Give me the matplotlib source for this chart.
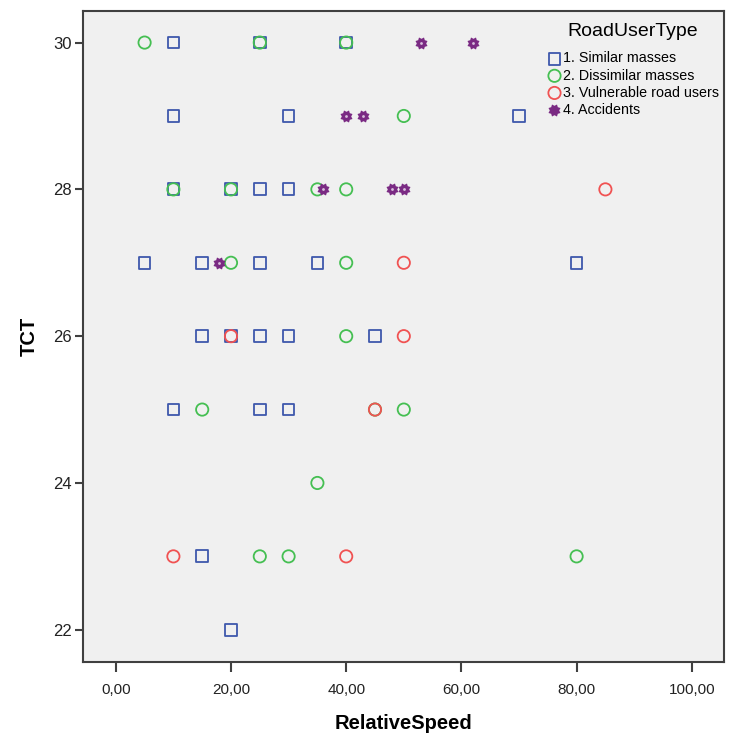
import numpy as np
import matplotlib
matplotlib.use("Agg")
import matplotlib.pyplot as plt
from matplotlib.path import Path

plt.rcParams['font.family'] = ['Liberation Sans', 'DejaVu Sans']

# 1. Similar masses
sim_x = [10, 25, 40, 10, 30, 70, 10, 20, 25, 30, 5, 15, 25, 35, 80, 15, 20, 25, 30, 45, 10, 25, 30, 15, 20]
sim_y = [30, 30, 30, 29, 29, 29, 28, 28, 28, 28, 27, 27, 27, 27, 27, 26, 26, 26, 26, 26, 25, 25, 25, 23, 22]
# 2. Dissimilar masses
dis_x = [5, 25, 40, 50, 10, 20, 35, 40, 20, 40, 40, 15, 45, 50, 35, 25, 30, 80]
dis_y = [30, 30, 30, 29, 28, 28, 28, 28, 27, 27, 26, 25, 25, 25, 24, 23, 23, 23]
# 3. Vulnerable road users
vul_x = [85, 50, 20, 50, 45, 10, 40]
vul_y = [28, 27, 26, 26, 25, 23, 23]
# 4. Accidents
acc_x = [53, 62, 40, 43, 36, 48, 50, 18]
acc_y = [30, 30, 29, 29, 28, 28, 28, 27]

labels = ['1. Similar masses', '2. Dissimilar masses', '3. Vulnerable road users', '4. Accidents']
xticks = [0, 20, 40, 60, 80, 100]
yticks = [22, 24, 26, 28, 30]

# gear-like marker used by SPSS for the 4th group
ang = np.linspace(0, 2 * np.pi, 17)[:-1] + np.pi / 8
rad = np.where(np.arange(16) % 2 == 0, 1.0, 0.72)
gear = np.column_stack([rad * np.cos(ang), rad * np.sin(ang)])
gear = Path(np.vstack([gear, gear[:1]]), closed=True)

fig = plt.figure(figsize=(7.31, 7.34), dpi=100)
ax = fig.add_axes([0.1135, 0.098, 0.877, 0.887])
ax.set_facecolor('#f0f0f0')

ax.scatter(sim_x, sim_y, marker='s', s=72, facecolors='none', edgecolors='#3e58ac', linewidths=1.3, label=labels[0])
ax.scatter(dis_x, dis_y, marker='o', s=78, facecolors='none', edgecolors='#45bf52', linewidths=1.3, label=labels[1])
ax.scatter(vul_x, vul_y, marker='o', s=78, facecolors='none', edgecolors='#f05252', linewidths=1.3, label=labels[2])
ax.scatter(acc_x, acc_y, marker=gear, s=75, color='#7a2a83', linewidths=0, label=labels[3])
ax.scatter(acc_x, acc_y, marker='o', s=4, color='#d8c0dc', linewidths=0)

ax.set_xlim(-5.7, 105.6)
ax.set_ylim(21.56, 30.43)
ax.set_xticks(xticks)
ax.set_xticklabels([('%.2f' % v).replace('.', ',') for v in xticks])
ax.set_yticks(yticks)

for sp in ax.spines.values():
    sp.set_color('#404040')
    sp.set_linewidth(1.5)
ax.tick_params(axis='both', direction='out', length=7, width=1.5, color='#404040',
               labelsize=11, labelcolor='#222222', pad=3)
ax.tick_params(axis='y', labelsize=12, length=6, pad=2)
ax.tick_params(axis='x', pad=8)

ax.set_xlabel('RelativeSpeed', fontsize=14.5, fontweight='bold', labelpad=12)
ax.set_ylabel('TCT', fontsize=14.5, fontweight='bold', labelpad=10)

leg = ax.legend(loc='upper left', bbox_to_anchor=(0.738, 0.978), bbox_transform=fig.transFigure,
                frameon=False, title='RoadUserType', fontsize=10.3, title_fontsize=14,
                handletextpad=0.05, labelspacing=0.22, borderpad=0, handlelength=1.1)
leg._legend_box.sep = 8

fig.savefig('out.png', dpi=100)
